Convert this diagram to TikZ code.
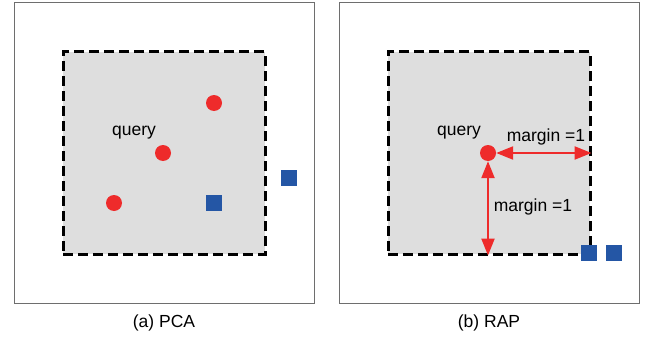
\documentclass[tikz,border=0pt]{standalone}
\usepackage{fontspec}
\setmainfont{Liberation Sans}
\usetikzlibrary{arrows.meta,positioning}
\definecolor{Dot}{HTML}{EE2B2B}
\definecolor{Sq}{HTML}{2456A5}
\definecolor{Shade}{HTML}{DEDEDE}
\definecolor{Frame}{HTML}{6E6E6E}
\begin{document}
\begin{tikzpicture}[x=1pt,y=-1pt,font=\fontsize{17.5}{21}\selectfont,
    frame/.style={draw=Frame,line width=1pt,minimum size=300pt,inner sep=0pt},
    region/.style={draw,fill=Shade,line width=3pt,dash pattern=on 10pt off 5pt,
      minimum size=202pt,inner sep=0pt},
    dot/.style={circle,fill=Dot,minimum size=16pt,inner sep=0pt},
    sq/.style={fill=Sq,minimum size=16pt,inner sep=0pt},
    gap/.style={{Triangle[length=17pt,width=13pt]}-{Triangle[length=17pt,width=13pt]},
      draw=Dot,line width=2.3pt}]
  \useasboundingbox (0,0) rectangle (650,337);
  % (a) PCA
  \node[frame] (frameA) at (164,153) {};
  \node[region] (regionA) at (164,153) {};
  \foreach \x/\y/\n in {214/103/a1,163/153/a2,114/203/a3}
    \node[dot] (\n) at (\x,\y) {};
  \node[sq] (sqA1) at (214,203) {};
  \node[sq] (sqA2) at (289,178) {};
  \node (queryA) at (134,133) {query};
  \node (capA) at (164,323) {(a) PCA};
  % (b) RAP
  \node[frame] (frameB) at (489,153) {};
  \node[region] (regionB) at (489,153) {};
  \node[dot] (dotB) at (488,153) {};
  \node (queryB) at (459,133) {query};
  \draw[gap] (dotB.east) -- (regionB.east |- dotB);
  \draw[gap] (dotB.south) -- (dotB |- regionB.south);
  \node (marginH) at (546,137) {margin =1};
  \node (marginV) at (533,207) {margin =1};
  \node[sq] (sqB1) at (589,253) {};
  \node[sq] (sqB2) at (614,253) {};
  \node (capB) at (489,323) {(b) RAP};
\end{tikzpicture}
\end{document}
